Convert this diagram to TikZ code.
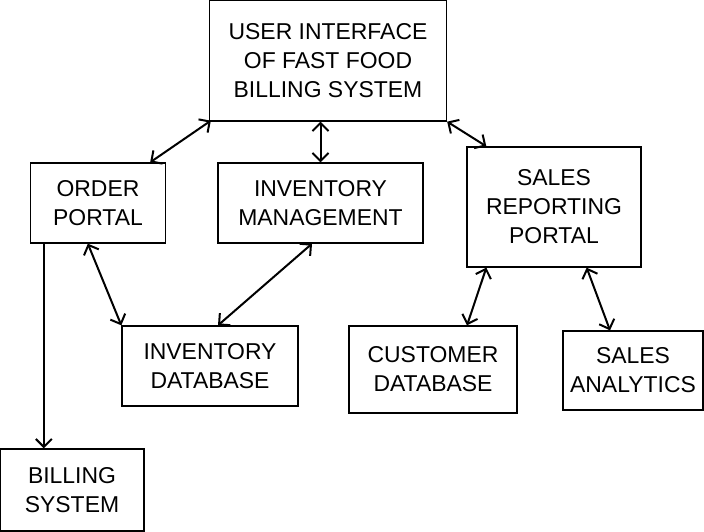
\documentclass[tikz,border=0pt]{standalone}
\usepackage{fontspec}
\setmainfont{Liberation Sans}
\usetikzlibrary{arrows.meta,calc}

\tikzset{every picture/.style={line width=1pt}}
\tikzset{
  blockbox/.style={draw,rectangle,inner sep=0pt,align=center,
    font=\fontsize{17.2}{21.8}\selectfont},
  linkarrow/.style={line width=1.5pt,{Straight Barb[length=6pt,width=12pt]}-{Straight Barb[length=6pt,width=12pt]}},
  downarrow/.style={line width=1.5pt,-{Straight Barb[length=6pt,width=12pt]}}
}

\begin{document}
\begin{tikzpicture}[x=0.75pt,y=0.75pt,yscale=-1,xscale=1]
        \useasboundingbox (0,0) rectangle (704,532);

        % Boxes
        \node [blockbox,minimum width=177.75pt,minimum height=90.75pt] (ui) at (328,60.5) {USER INTERFACE\\OF FAST FOOD\\BILLING SYSTEM};
        \node [blockbox,minimum width=101.25pt,minimum height=60pt] (op) at (98,203) {ORDER\\PORTAL};
        \node [blockbox,minimum width=153.75pt,minimum height=60pt] (im) at (320.5,203) {INVENTORY\\MANAGEMENT};
        \node [blockbox,minimum width=130.5pt,minimum height=90pt] (sr) at (554,207) {SALES\\REPORTING\\PORTAL};
        \node [blockbox,minimum width=132pt,minimum height=60pt] (idb) at (210,366) {INVENTORY\\DATABASE};
        \node [blockbox,minimum width=126pt,minimum height=65.25pt] (cdb) at (433,369.5) {CUSTOMER\\DATABASE};
        \node [blockbox,minimum width=105pt,minimum height=59.25pt] (sa) at (633,370.5) {SALES\\ANALYTICS};
        \node [blockbox,minimum width=108pt,minimum height=61.5pt] (bs) at (72,490) {BILLING\\SYSTEM};

        % Links
        \draw [linkarrow] ($(ui.south west)+(2,-1)$) -- ($(op.north east)+(-16,0)$);
        \draw [linkarrow] (im.north |- ui.south) -- (im.north);
        \draw [linkarrow] (ui.south east) -- ($(sr.north west)+(20,0)$);
        \draw [linkarrow] ($(op.south west)+(58,0)$) -- (idb.north west);
        \draw [linkarrow] ($(im.south)+(-8.5,0)$) -- ($(idb.north)+(8,0)$);
        \draw [linkarrow] ($(sr.south west)+(20,0)$) -- ($(cdb.north)+(34,0)$);
        \draw [linkarrow] ($(sr.south east)+(-55,0)$) -- ($(sa.north)+(-23,0)$);

        % Order portal to billing
        \coordinate (opb) at ($(op.south west)+(14,0)$);
        \draw [downarrow] (opb) -- (opb |- bs.north);

    \end{tikzpicture}
\end{document}
